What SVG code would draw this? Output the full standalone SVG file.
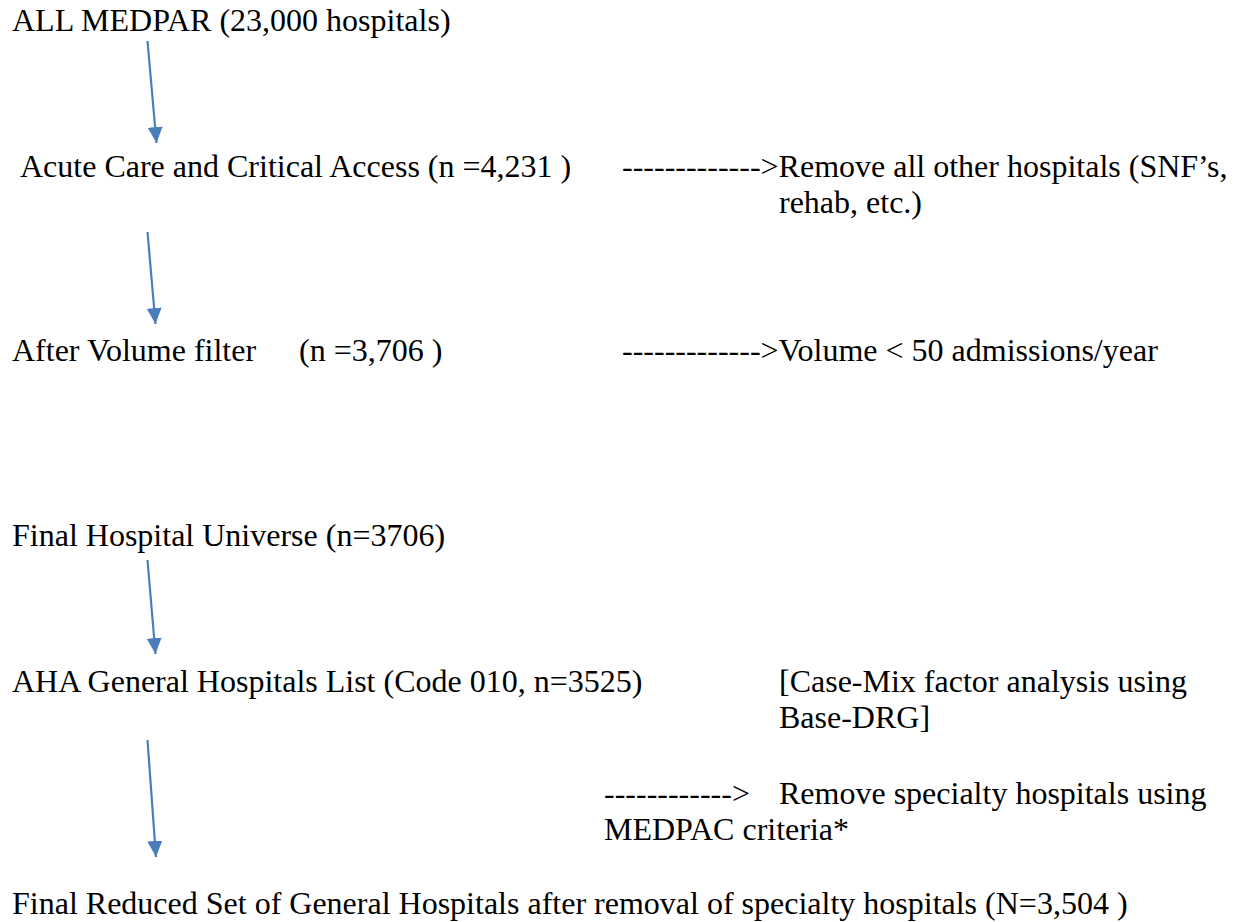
<svg xmlns="http://www.w3.org/2000/svg" width="1238" height="922" viewBox="0 0 1238 922">
<style>
text{font-family:"Liberation Serif","Times New Roman",serif;font-size:32px;fill:#000;}
.c{stroke:#4a7ebb;stroke-width:2.2;fill:none;}
</style>
<defs>
<marker id="ah" viewBox="0 0 16 15" refX="16" refY="7.5" markerWidth="16" markerHeight="15" markerUnits="userSpaceOnUse" orient="auto">
<path d="M0,0 L16,7.5 L0,15 Z" fill="#4a7ebb"/>
</marker>
</defs>
<rect width="1238" height="922" fill="#fff"/>
<g id="connectors">
<line class="c" x1="147.5" y1="41" x2="156.5" y2="143" marker-end="url(#ah)"/>
<line class="c" x1="147.5" y1="232" x2="155.5" y2="324" marker-end="url(#ah)"/>
<line class="c" x1="147.5" y1="560" x2="155.5" y2="654" marker-end="url(#ah)"/>
<line class="c" x1="147.5" y1="740" x2="156" y2="857" marker-end="url(#ah)"/>
</g>
<g id="n1"><text x="12" y="31">ALL MEDPAR (23,000 hospitals)</text></g>
<g id="n2"><text x="20" y="177">Acute Care and Critical Access (n =4,231 )</text></g>
<g id="e1"><text><tspan x="622" y="177">-------------&gt;Remove all other hospitals (SNF’s,</tspan><tspan x="779" y="213">rehab, etc.)</tspan></text></g>
<g id="n3"><text x="12" y="361">After Volume filter</text><text x="299" y="361">(n =3,706 )</text></g>
<g id="e2"><text x="622" y="361">-------------&gt;Volume &lt; 50 admissions/year</text></g>
<g id="n4"><text x="12" y="546">Final Hospital Universe (n=3706)</text></g>
<g id="n5"><text x="12" y="692">AHA General Hospitals List (Code 010, n=3525)</text></g>
<g id="e3"><text><tspan x="779" y="692">[Case-Mix factor analysis using</tspan><tspan x="779" y="728">Base-DRG]</tspan></text></g>
<g id="e4"><text><tspan x="604" y="804">------------&gt;</tspan><tspan x="779" y="804">Remove specialty hospitals using</tspan><tspan x="604" y="840">MEDPAC criteria*</tspan></text></g>
<g id="n6"><text x="12" y="914">Final Reduced Set of General Hospitals after removal of specialty hospitals (N=3,504 )</text></g>
</svg>
